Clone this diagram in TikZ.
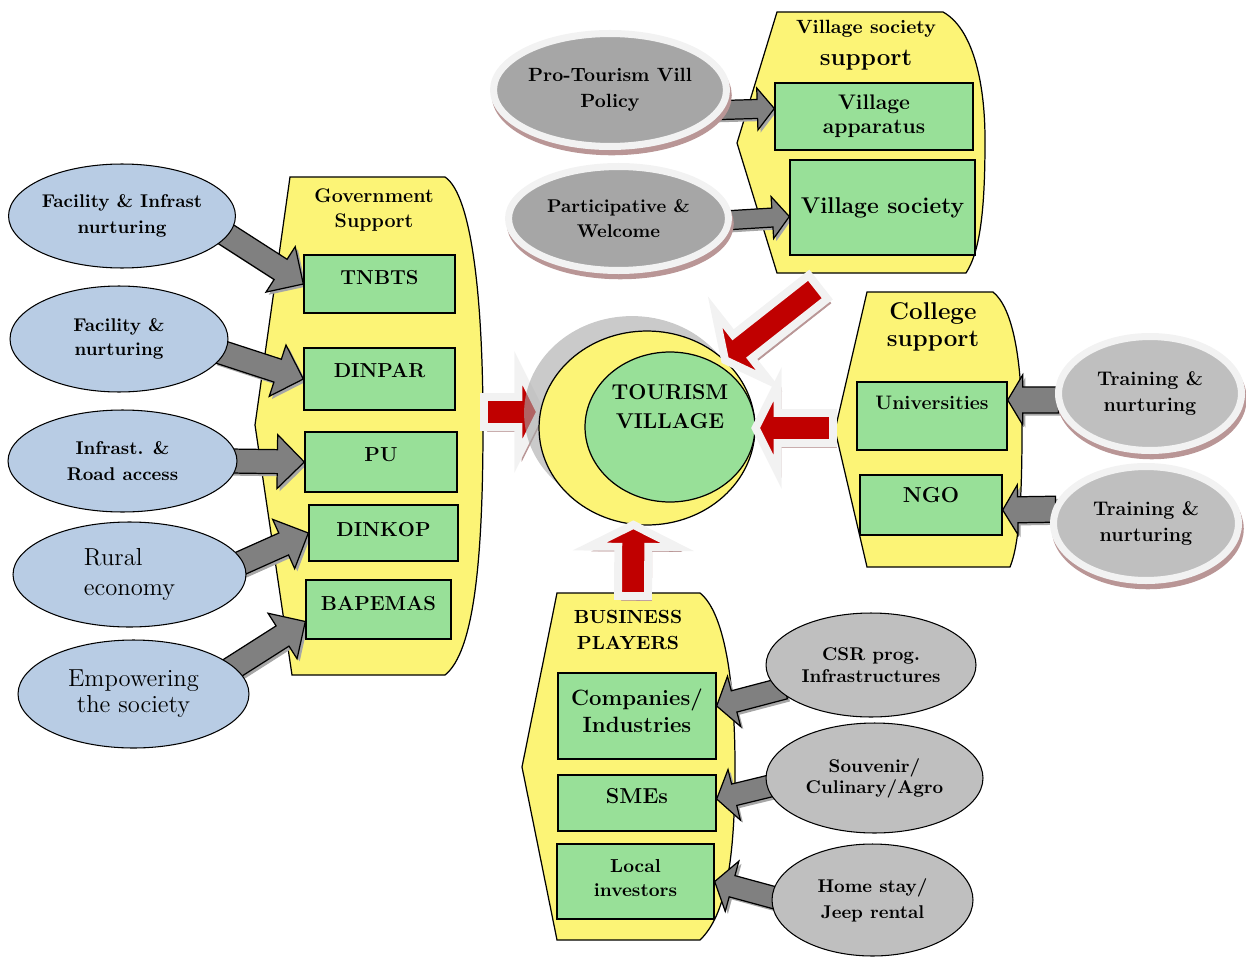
\documentclass[tikz,border=0pt]{standalone}
\usepackage{tikz}
\usetikzlibrary{calc,shadows,shapes.geometric}
\definecolor{softblue}{RGB}{184,204,228}
\definecolor{softgreen}{RGB}{152,224,152}
\definecolor{softyellow}{RGB}{252,244,118}
\definecolor{arrowgray}{RGB}{128,128,128}
\definecolor{ovalgray}{RGB}{166,166,166}
\definecolor{palegray}{RGB}{191,191,191}
\definecolor{rimgray}{RGB}{242,242,242}
\definecolor{rosy}{RGB}{185,150,150}
\definecolor{deepred}{RGB}{192,0,0}
\pgfdeclarelayer{back}
\pgfdeclarelayer{mid}
\pgfsetlayers{back,mid,main}

% block arrow: [style]{tail}{tip}{half shaft}{half head}{head length}
\newcommand{\blockarrow}[6][]{%
  \draw[#1] ($(#2)!#4!90:(#3)$) -- ($($(#3)!#6!(#2)$)!#4!-90:(#2)$) -- ($($(#3)!#6!(#2)$)!#5!-90:(#2)$) -- (#3)
    -- ($($(#3)!#6!(#2)$)!#5!90:(#2)$) -- ($($(#3)!#6!(#2)$)!#4!90:(#2)$) -- ($(#2)!#4!-90:(#3)$) -- cycle;}

\begin{document}
\begin{tikzpicture}[x=0.02cm, y=-0.02cm, every node/.style={align=center},
  blueoval/.style={draw, ellipse, fill=softblue, inner sep=0pt, line width=0.6pt, font=\fontsize{10.5}{14.5}\selectfont\bfseries},
  greyoval/.style={ellipse, fill=ovalgray, draw=rimgray, line width=4pt, inner sep=0pt, font=\fontsize{10.9}{14.5}\selectfont\bfseries,
    drop shadow={shadow xshift=1pt, shadow yshift=-3pt, fill=rosy, draw=rosy, opacity=1}},
  lightoval/.style={draw, ellipse, fill=palegray, inner sep=0pt, line width=0.6pt, font=\fontsize{10.5}{12.5}\selectfont\bfseries},
  panel/.style={draw, fill=softyellow, line width=0.7pt},
  greenbox/.style={draw, fill=softgreen, line width=0.8pt, inner sep=0pt, font=\fontsize{11.5}{14}\selectfont\bfseries},
  grayblock/.style={draw, fill=arrowgray, line width=0.7pt, drop shadow={shadow xshift=1.5pt, shadow yshift=-1.5pt, fill=black!35, opacity=1}},
  redblock/.style={fill=deepred, draw=rimgray, line width=4.5pt, drop shadow={shadow xshift=2pt, shadow yshift=-2.5pt, fill=rosy, draw=rosy, opacity=1}}]
\useasboundingbox (0,0) rectangle (1246,956);

% panel titles
\node[font=\fontsize{11.2}{14}\selectfont\bfseries] (govtitle) at (374,210) {Government\\Support};
\node (vstitle) at (866,45) {{\fontsize{10.9}{12}\selectfont\bfseries Village society}\\[6pt]{\fontsize{13.8}{15}\selectfont\bfseries support}};
\node[font=\fontsize{13.8}{15.5}\selectfont\bfseries] (coltitle) at (933,327) {College\\support};
\node[font=\fontsize{10.8}{14.5}\selectfont\bfseries] (bustitle) at (628,630) {BUSINESS\\PLAYERS};

% government support
\node[greenbox, minimum width=3.02cm, minimum height=1.16cm, text depth=7pt] (tnbts) at (379.5,284) {TNBTS};
\node[greenbox, minimum width=3.02cm, minimum height=1.24cm, text depth=10pt] (dinpar) at (379.5,379) {DINPAR};
\node[greenbox, minimum width=3.04cm, minimum height=1.2cm, text depth=8pt] (pu) at (381,462) {PU};
\node[greenbox, minimum width=2.98cm, minimum height=1.12cm, text depth=4.5pt] (dinkop) at (383.5,533) {DINKOP};
\node[greenbox, minimum width=2.9cm, minimum height=1.18cm, text depth=7pt] (bapemas) at (378.5,609.5) {BAPEMAS};

% village, college, business
\node[greenbox, minimum width=3.96cm, minimum height=1.34cm, font=\fontsize{12}{13.6}\selectfont\bfseries] (vapp) at (874,116.5) {Village\\apparatus};
\node[greenbox, minimum width=3.7cm, minimum height=1.9cm, font=\fontsize{13}{15}\selectfont\bfseries] (vsoc) at (882.5,207.5) {Village society};
\node[greenbox, minimum width=3.0cm, minimum height=1.36cm, text depth=14.7pt, font=\fontsize{11.1}{13}\selectfont\bfseries] (univ) at (932,416) {Universities};
\node[greenbox, minimum width=2.84cm, minimum height=1.2cm, text depth=11pt, font=\fontsize{12.3}{14}\selectfont\bfseries] (ngo) at (931,505) {NGO};
\node[greenbox, minimum width=3.16cm, minimum height=1.72cm, text depth=6pt, font=\fontsize{12.6}{15.3}\selectfont\bfseries] (comp) at (637,716) {Companies/\\Industries};
\node[greenbox, minimum width=3.16cm, minimum height=1.12cm, text depth=8pt, font=\fontsize{12.3}{14}\selectfont\bfseries] (smes) at (637,803) {SMEs};
\node[greenbox, minimum width=3.14cm, minimum height=1.5cm, text depth=4pt, font=\fontsize{10.7}{13.6}\selectfont\bfseries] (local) at (635.5,881.5) {Local\\investors};

% ovals
\node[blueoval, minimum width=4.4cm, minimum height=2.08cm] (fac1) at (122,216) {Facility \& Infrast\\nurturing};
\node[blueoval, minimum width=4.36cm, minimum height=2.12cm, font=\fontsize{10.5}{13.5}\selectfont\bfseries] (fac2) at (119,339) {Facility \&\\nurturing};
\node[blueoval, minimum width=4.58cm, minimum height=2.04cm] (infra) at (122.5,461) {Infrast. \&\\Road access};
\node[blueoval, minimum width=4.66cm, minimum height=2.1cm, font=\fontsize{14}{17}\selectfont, align=left] (rural) at (129.5,574.5) {Rural\\economy};
\node[blueoval, minimum width=4.62cm, minimum height=2.16cm, font=\fontsize{14}{14.7}\selectfont] (empow) at (133.5,694) {Empowering\\the society};
\node[greyoval, minimum width=4.66cm, minimum height=2.26cm] (proto) at (610,90) {Pro-Tourism Vill\\Policy};
\node[greyoval, minimum width=4.4cm, minimum height=2.08cm, font=\fontsize{10.5}{14.5}\selectfont\bfseries] (partic) at (618.5,218.5) {Participative \&\\Welcome};
\node[greyoval, fill=palegray, minimum width=3.66cm, minimum height=2.28cm, font=\fontsize{11.2}{14.5}\selectfont\bfseries] (train1) at (1150,393.5) {Training \&\\nurturing};
\node[greyoval, fill=palegray, minimum width=3.7cm, minimum height=2.28cm, font=\fontsize{11.2}{14.5}\selectfont\bfseries] (train2) at (1146,523.5) {Training \&\\nurturing};
\node[lightoval, minimum width=4.2cm, minimum height=2.08cm] (csr) at (871,665) {CSR prog.\\Infrastructures};
\node[lightoval, minimum width=4.34cm, minimum height=2.2cm, font=\fontsize{10.5}{12}\selectfont\bfseries] (souv) at (874.5,778) {Souvenir/\\Culinary/Agro};
\node[lightoval, minimum width=4.02cm, minimum height=2.24cm, font=\fontsize{10.5}{14.7}\selectfont\bfseries] (home) at (872.5,900) {Home stay/\\Jeep rental};

% tourism village
\node[ellipse, draw, fill=softyellow, minimum width=4.32cm, minimum height=3.88cm, line width=0.7pt,
  drop shadow={shadow xshift=-8.5pt, shadow yshift=8.5pt, fill=black!35, opacity=0.6}] (yc) at (647,428) {};
\node[ellipse, draw, fill=softgreen, minimum width=3.4cm, minimum height=3.0cm, inner sep=0pt, line width=0.7pt, text depth=23pt,
  font=\fontsize{12.2}{16.5}\selectfont\bfseries] (tv) at (670,427) {TOURISM\\VILLAGE};

% arrow ends
\coordinate (fac1o) at ($(fac1)!0.93!(fac1.-9)$);
\coordinate (fac2o) at ($(fac2)!0.93!(fac2.-7)$);
\coordinate (infrao) at ($(infra)!0.93!(infra.0)$);
\coordinate (ruralo) at ($(rural)!0.93!(rural.5)$);
\coordinate (empowo) at ($(empow)!0.93!(empow.14)$);
\coordinate (bapin) at ($(bapemas.west)+(0,12)$);
\coordinate (protoo) at ($(proto)!0.93!(proto.-11)$);
\coordinate (partico) at ($(partic)!0.95!(partic.-1)$);
\coordinate (vappin) at ($(vapp.west)+(0,-8)$);
\coordinate (vsocin) at ($(vsoc.west)+(0,9)$);
\coordinate (train1o) at ($(train1)!0.97!(train1.184)$);
\coordinate (train2o) at ($(train2)!0.97!(train2.171)$);
\coordinate (univin) at ($(univ.east)+(0,-16)$);
\coordinate (ngoin) at ($(ngo.east)+(0,5)$);
\coordinate (csro) at ($(csr)!0.93!(csr.195)$);
\coordinate (souvo) at ($(souv)!0.93!(souv.184)$);
\coordinate (homeo) at ($(home)!0.95!(home.179)$);
\coordinate (compin) at ($(comp.east)+(0,-10)$);
\coordinate (smesin) at ($(smes.east)+(0,-4)$);
\coordinate (govout) at (484,412);
\coordinate (ycin) at ($(yc.west)+(2,-16)$);
\coordinate (vsout) at (818,287);
\coordinate (colout) at (833,428);
\coordinate (busout) at (633,596);

\begin{pgfonlayer}{mid}
\blockarrow[grayblock]{fac1o}{tnbts.west}{0.24cm}{0.54cm}{0.54cm}
\blockarrow[grayblock]{fac2o}{dinpar.west}{0.24cm}{0.54cm}{0.54cm}
\blockarrow[grayblock]{infrao}{pu.west}{0.24cm}{0.54cm}{0.54cm}
\blockarrow[grayblock]{ruralo}{dinkop.west}{0.24cm}{0.54cm}{0.54cm}
\blockarrow[grayblock]{empowo}{bapin}{0.24cm}{0.54cm}{0.54cm}
\blockarrow[grayblock]{protoo}{vappin}{0.19cm}{0.42cm}{0.34cm}
\blockarrow[grayblock]{partico}{vsocin}{0.19cm}{0.42cm}{0.34cm}
\blockarrow[grayblock]{train1o}{univin}{0.26cm}{0.5cm}{0.3cm}
\blockarrow[grayblock]{train2o}{ngoin}{0.26cm}{0.5cm}{0.3cm}
\blockarrow[grayblock]{csro}{compin}{0.22cm}{0.52cm}{0.36cm}
\blockarrow[grayblock]{souvo}{smesin}{0.22cm}{0.52cm}{0.36cm}
\blockarrow[grayblock]{homeo}{local.east}{0.22cm}{0.52cm}{0.36cm}
\blockarrow[redblock]{govout}{ycin}{0.3cm}{0.88cm}{0.44cm}
\end{pgfonlayer}

\blockarrow[redblock]{vsout}{yc.41}{0.3cm}{0.88cm}{0.44cm}
\blockarrow[redblock]{colout}{yc.east}{0.3cm}{0.88cm}{0.44cm}
\blockarrow[redblock]{busout}{yc.-98}{0.3cm}{0.88cm}{0.44cm}

% yellow panels
\begin{pgfonlayer}{back}
\draw[panel] (290,177) -- (445,177) .. controls (472,195) and (483,300) .. (483,425) .. controls (483,560) and (474,652) .. (445,675) -- (292,675) -- (255,425) -- cycle;
\draw[panel] (777,12) -- (943,12) .. controls (972,28) and (985,80) .. (985,140) .. controls (985,205) and (981,250) .. (966,273) -- (777,273) -- (737,143) -- cycle;
\draw[panel] (867,292) -- (993,292) .. controls (1013,308) and (1022,360) .. (1022,430) .. controls (1022,500) and (1019,545) .. (1010,567) -- (867,567) -- (835,430) -- cycle;
\draw[panel] (557,593) -- (700,593) .. controls (724,612) and (735,680) .. (735,767) .. controls (735,860) and (726,915) .. (700,940) -- (557,940) -- (522,767) -- cycle;
\end{pgfonlayer}
\end{tikzpicture}
\end{document}
